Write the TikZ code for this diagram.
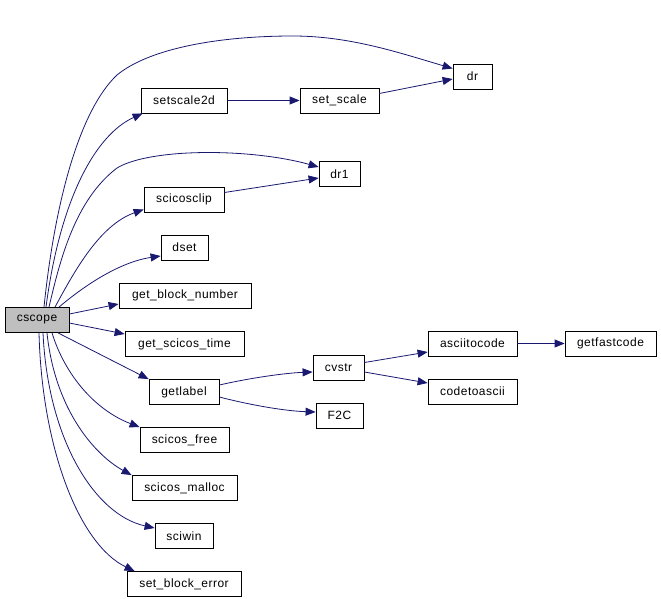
\documentclass[tikz,border=0pt]{standalone}
\usepackage{fontspec}
\setmainfont{Liberation Sans}[LetterSpace=4]
\usetikzlibrary{arrows.meta}
\definecolor{edgeblue}{HTML}{191970}
\definecolor{rootgray}{HTML}{BFBFBF}
\begin{document}
\begin{tikzpicture}[x=1pt,y=-1pt,
  fn/.style={draw=black, line width=0.8pt, rectangle, inner sep=0pt, minimum height=25pt, font=\fontsize{12}{14}\selectfont},
  call/.style={draw=edgeblue, line width=0.8pt, -{Triangle[length=10pt,width=8pt]}},
]
\useasboundingbox (0,0) rectangle (661,599);
\node[fn, fill=rootgray, minimum width=64pt] (cscope) at (37,320) {cscope};
\node[fn, minimum width=86pt] (setscale2d) at (184,100.5) {setscale2d};
\node[fn, minimum width=79pt] (setscale) at (339.5,100.5) {set\_scale};
\node[fn, minimum width=39pt] (dr) at (472.5,76.5) {dr};
\node[fn, minimum width=41pt] (dr1) at (339.5,174) {dr1};
\node[fn, minimum width=80pt] (scicosclip) at (184,199.5) {scicosclip};
\node[fn, minimum width=47pt] (dset) at (184.5,247.5) {dset};
\node[fn, minimum width=132pt] (gbn) at (185,295.5) {get\_block\_number};
\node[fn, minimum width=119pt] (gst) at (184.5,344) {get\_scicos\_time};
\node[fn, minimum width=70pt] (getlabel) at (184,392) {getlabel};
\node[fn, minimum width=89pt] (sfree) at (184.5,440) {scicos\_free};
\node[fn, minimum width=105pt] (smalloc) at (184.5,488) {scicos\_malloc};
\node[fn, minimum width=58pt] (sciwin) at (184,536) {sciwin};
\node[fn, minimum width=114pt] (sbe) at (184,584) {set\_block\_error};
\node[fn, minimum width=51pt] (cvstr) at (338.5,367.5) {cvstr};
\node[fn, minimum width=47pt] (f2c) at (339.5,415.5) {F2C};
\node[fn, minimum width=89pt] (a2c) at (472.5,343.5) {asciitocode};
\node[fn, minimum width=89pt] (c2a) at (472.5,391.5) {codetoascii};
\node[fn, minimum width=91pt] (gfc) at (610.5,343.5) {getfastcode};

\draw[call] ([xshift=7pt]cscope.north) .. controls (55,200) and (80,110) .. (117,75)
  .. controls (150,48) and (220,36) .. (293,36) .. controls (350,36) and (400,53) .. ([yshift=8pt]dr.west);
\draw[call] ([xshift=9pt]cscope.north) .. controls (60,200) and (95,135) .. ([xshift=2pt]setscale2d.south west);
\draw[call] ([xshift=12pt]cscope.north) .. controls (60,260) and (75,200) .. (117,168)
  .. controls (150,148) and (250,148) .. ([yshift=7pt]dr1.west);
\draw[call] ([xshift=18pt]cscope.north) .. controls (75,270) and (100,225) .. ([yshift=-10pt]scicosclip.west);
\draw[call] ([xshift=22pt]cscope.north) .. controls (85,285) and (120,262) .. ([yshift=-8.5pt]dset.west);
\draw[call] ([yshift=6pt]cscope.east) -- ([yshift=-8.5pt]gbn.west);
\draw[call] ([yshift=-3pt]cscope.east) -- ([yshift=10pt]gst.west);
\draw[call] ([xshift=21pt]cscope.south) -- (getlabel.north west);
\draw[call] ([xshift=15pt]cscope.south) .. controls (65,375) and (95,410) .. (sfree.north west);
\draw[call] ([xshift=10pt]cscope.south) .. controls (55,410) and (95,455) .. (smalloc.north west);
\draw[call] ([xshift=6pt]cscope.south) .. controls (48,440) and (95,515) .. ([yshift=8pt]sciwin.west);
\draw[call] ([xshift=2pt]cscope.south) .. controls (42,450) and (80,545) .. ([xshift=8pt]sbe.north west);

\draw[call] (setscale2d.east) -- (setscale.west);
\draw[call] ([yshift=7pt]setscale.east) -- ([yshift=-2.5pt]dr.west);
\draw[call] ([yshift=7pt]scicosclip.east) -- ([yshift=-4pt]dr1.west);
\draw[call] ([yshift=7pt]getlabel.east) .. controls (250,378) and (285,373) .. ([yshift=-4.5pt]cvstr.west);
\draw[call] ([yshift=-5pt]getlabel.east) .. controls (250,405) and (285,411) .. ([yshift=3.5pt]f2c.west);
\draw[call] ([yshift=5pt]cvstr.east) -- ([yshift=-8.5pt]a2c.west);
\draw[call] ([yshift=-4.5pt]cvstr.east) -- ([yshift=8.5pt]c2a.west);
\draw[call] (a2c.east) -- (gfc.west);
\end{tikzpicture}
\end{document}
